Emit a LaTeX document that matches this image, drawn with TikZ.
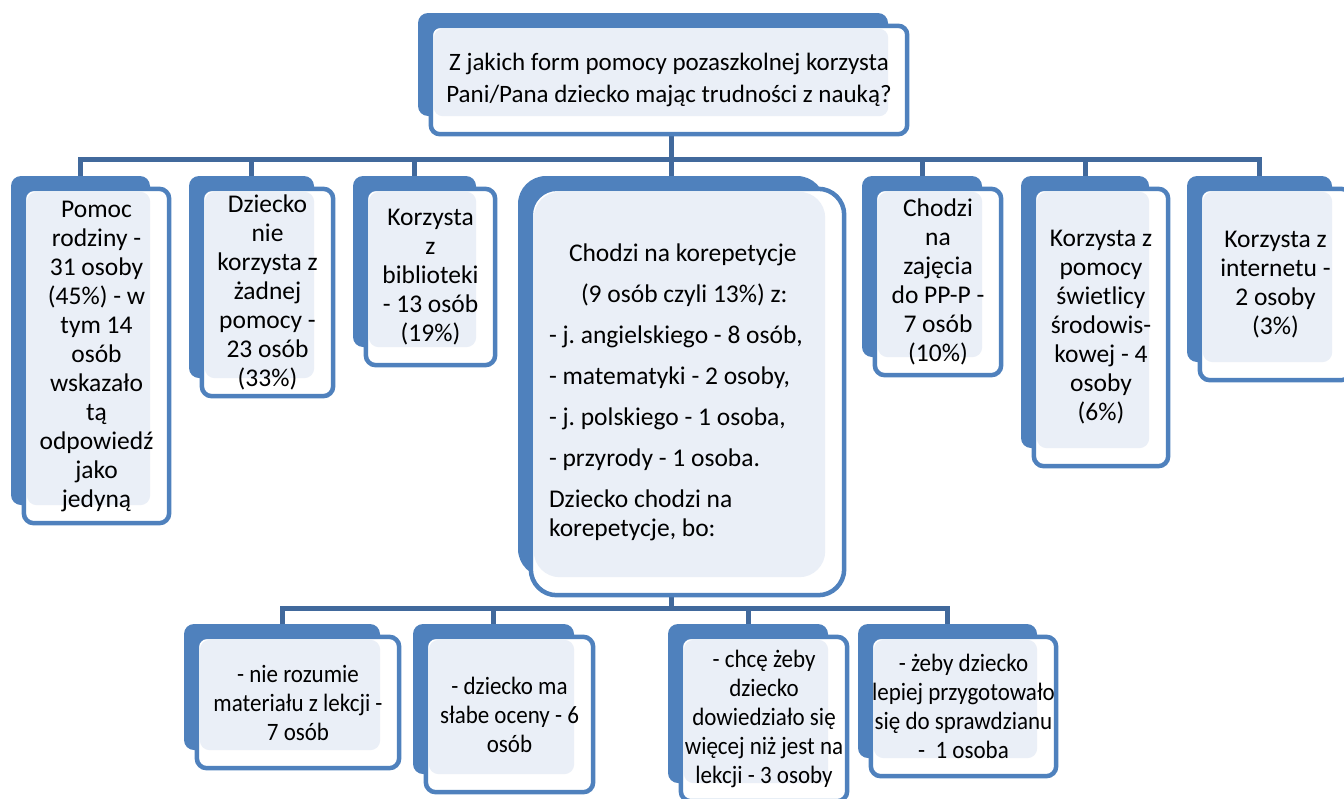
\documentclass[tikz,border=0pt]{standalone}
\usepackage{fontspec}
\setmainfont{Carlito}
\newfontfamily\narrowfont[FakeStretch=0.92]{Carlito}
\usetikzlibrary{calc,backgrounds}
\frenchspacing
\definecolor{shade}{HTML}{4F81BD}
\definecolor{pale}{HTML}{EAEFF7}
\definecolor{wire}{HTML}{41699C}
\tikzset{
  backbox/.style={fill=shade, rounded corners=10pt, inner sep=0pt},
  frontbox/.style={draw=shade, line width=4.5pt, fill=white},
  palebox/.style={fill=pale},
  link/.style={draw=wire, line width=5pt},
  txt/.style={font=\fontsize{25.5}{29}\selectfont, align=center, inner sep=0pt},
  subtxt/.style={font=\narrowfont\fontsize{25}{29}\selectfont, align=center, inner sep=0pt},
}

\begin{document}
\begin{tikzpicture}[x=1pt, y=-1pt]
\useasboundingbox (0,0) rectangle (1344,798);

% dark backs of the boxes
\node[backbox, minimum width=470pt, minimum height=103pt] (top) at (653,64.5) {};
\node[backbox, minimum width=139pt, minimum height=329pt] (b1) at (80.5,340.5) {};
\node[backbox, minimum width=125pt, minimum height=202pt] (b2) at (251.5,277) {};
\node[backbox, minimum width=123pt, minimum height=171pt] (b3) at (414.5,261.5) {};
\node[backbox, rounded corners=28pt, minimum width=307pt, minimum height=401pt] (mid) at (671.5,376.5) {};
\node[backbox, minimum width=120pt, minimum height=181pt] (b5) at (922,266.5) {};
\node[backbox, minimum width=128pt, minimum height=272pt] (b6) at (1085,312) {};
\node[backbox, minimum width=145pt, minimum height=186pt] (b7) at (1259.5,269) {};
\node[backbox, minimum width=196pt, minimum height=126pt] (c1) at (282,687) {};
\node[backbox, minimum width=161pt, minimum height=150pt] (c2) at (493.5,699) {};
\node[backbox, minimum width=160pt, minimum height=159pt] (c3) at (748,703.5) {};
\node[backbox, minimum width=179pt, minimum height=134pt] (c4) at (947.5,691) {};

% white frames and pale fill on top
\foreach \n/\r in {top/9,b1/10,b2/10,b3/10,mid/26,b5/10,b6/10,b7/10,c1/10,c2/10,c3/10,c4/10} {
  \draw[frontbox, rounded corners=\r pt] ($(\n.north west)+(13,13)$) rectangle ($(\n.south east)+(19,18)$);
  \fill[palebox, rounded corners=\r pt] ($(\n.north west)+(16,16)$) rectangle (\n.south east);
}

% connectors behind
\begin{scope}[on background layer]
\coordinate (bus) at (0,159);
\coordinate (subbus) at (0,608);
\draw[link] (top.south -| mid.north) -- (mid.north);
\draw[link, line cap=rect] (b1.north |- bus) -- (b7.north |- bus);
\foreach \n in {b1,b2,b3,b5,b6,b7}
  \draw[link] (\n.north |- bus) -- (\n.north);
\draw[link] (mid.south) -- (mid.south |- subbus);
\draw[link, line cap=rect] (c1.north |- subbus) -- (c4.north |- subbus);
\foreach \n in {c1,c2,c3,c4}
  \draw[link] (\n.north |- subbus) -- (\n.north);
\end{scope}

% texts
\node[txt, font=\fontsize{25}{32}\selectfont] (topt) at ($(top.center)+(16,15.5)$) {Z jakich form pomocy pozaszkolnej korzysta\\Pani/Pana dziecko mając trudności z nauką?};
\node[txt] (b1t) at ($(b1.center)+(16,15.5)$) {Pomoc\\rodziny -\\31 osoby\\(45\%) - w\\tym 14\\osób\\wskazało\\tą\\odpowiedź\\jako\\jedyną};
\node[txt] (b2t) at ($(b2.center)+(16,15.5)$) {Dziecko\\nie\\korzysta z\\żadnej\\pomocy -\\23 osób\\(33\%)};
\node[txt] (b3t) at ($(b3.center)+(16,15.5)$) {Korzysta\\z\\biblioteki\\- 13 osób\\(19\%)};
\node[txt, align=left, anchor=west] (midt) at ($(mid.west)+(31,15.5)$) {\hspace*{20pt}Chodzi na korepetycje\\[12pt]\hspace*{32pt}(9 osób czyli 13\%) z:\\[12pt]- j. angielskiego - 8 osób,\\[12pt]- matematyki - 2 osoby,\\[12pt]- j. polskiego - 1 osoba,\\[12pt]- przyrody - 1 osoba.\\[12pt]Dziecko chodzi na\\korepetycje, bo:};
\node[txt] (b5t) at ($(b5.center)+(16,15.5)$) {Chodzi\\na\\zajęcia\\do PP-P -\\7 osób\\(10\%)};
\node[txt] (b6t) at ($(b6.center)+(16,15.5)$) {Korzysta z\\pomocy\\świetlicy\\środowis-\\kowej - 4\\osoby\\(6\%)};
\node[txt] (b7t) at ($(b7.center)+(16,15.5)$) {Korzysta z\\internetu -\\2 osoby\\(3\%)};
\node[subtxt] (c1t) at ($(c1.center)+(16,15.5)$) {- nie rozumie\\materiału z lekcji -\\7 osób};
\node[subtxt] (c2t) at ($(c2.center)+(16,15.5)$) {- dziecko ma\\słabe oceny - 6\\osób};
\node[subtxt] (c3t) at ($(c3.center)+(16,15.5)$) {- chcę żeby\\dziecko\\dowiedziało się\\więcej niż jest na\\lekcji - 3 osoby};
\node[subtxt] (c4t) at ($(c4.center)+(16,15.5)$) {- żeby dziecko\\lepiej przygotowało\\się do sprawdzianu\\-~~1 osoba};
\end{tikzpicture}
\end{document}
